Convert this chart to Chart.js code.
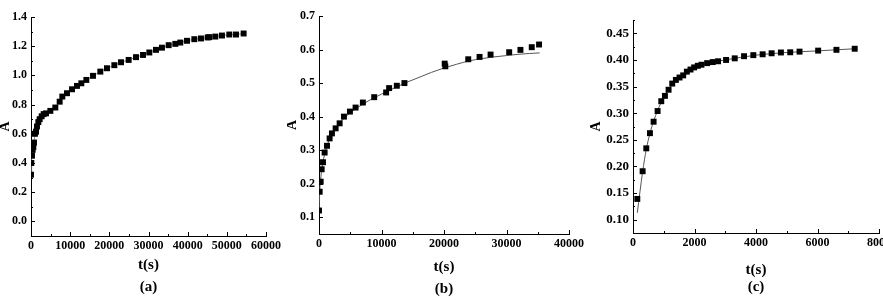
<!DOCTYPE html>
<html>
<head>
<meta charset="utf-8">
<script src="https://cdn.jsdelivr.net/npm/chart.js@4"></script>
<style>
  html, body { margin: 0; padding: 0; background: #fff; overflow: hidden; }
  body { width: 883px; height: 300px; position: relative; }
  .panel { position: absolute; top: 0; height: 300px; }
</style>
</head>
<body>
<div class="panel" style="left:0;width:287px"><canvas id="chartA"></canvas></div>
<div class="panel" style="left:287px;width:300px"><canvas id="chartB"></canvas></div>
<div class="panel" style="left:590px;width:310px"><canvas id="chartC"></canvas></div>
<script>
// (a) measured points
const tA = [0, 85, 255, 425, 600, 765, 1020, 1280, 1530, 1870, 2210, 2720, 3230, 3830, 4940, 6210, 7320, 8000, 9190, 10470, 11740, 12850, 14130, 15830, 17700, 19400, 21280, 22980, 24930, 26810, 28600, 30210, 31910, 33440, 35150, 36850, 38120, 39830, 41700, 43400, 45100, 45530, 47060, 48760, 50630, 52340, 54290];
const aA = [0.32, 0.40, 0.45, 0.49, 0.51, 0.54, 0.60, 0.615, 0.65, 0.68, 0.70, 0.72, 0.735, 0.74, 0.757, 0.78, 0.82, 0.855, 0.878, 0.905, 0.928, 0.946, 0.969, 0.997, 1.026, 1.049, 1.07, 1.09, 1.106, 1.125, 1.14, 1.157, 1.175, 1.19, 1.207, 1.216, 1.225, 1.237, 1.248, 1.253, 1.26, 1.262, 1.266, 1.273, 1.28, 1.28, 1.287];

// (b) measured points + fitted curve
const tB = [0, 106, 266, 425, 640, 900, 1280, 1700, 2070, 2660, 3300, 3990, 4950, 5850, 7020, 8830, 10740, 11220, 12450, 13670, 20110, 20210, 23880, 25690, 27450, 30430, 32230, 34040, 35210];
const aB = [0.12, 0.176, 0.206, 0.243, 0.264, 0.293, 0.313, 0.335, 0.35, 0.365, 0.38, 0.40, 0.415, 0.427, 0.442, 0.458, 0.472, 0.485, 0.492, 0.50, 0.558, 0.55, 0.571, 0.578, 0.585, 0.592, 0.599, 0.607, 0.615];
const tBfit = [0, 100, 250, 500, 1000, 2000, 3000, 4000, 6000, 8000, 10000, 12000, 14000, 16000, 18000, 20000, 22000, 24000, 26000, 28000, 30000, 32000, 35300];
const aBfit = [0.11, 0.17, 0.21, 0.25, 0.295, 0.345, 0.373, 0.395, 0.425, 0.448, 0.467, 0.485, 0.502, 0.517, 0.532, 0.545, 0.556, 0.566, 0.573, 0.578, 0.582, 0.586, 0.590];

// (c) measured points + fitted curve
const tC = [140, 313, 432, 551, 670, 800, 919, 1038, 1157, 1276, 1395, 1513, 1632, 1751, 1870, 1989, 2108, 2227, 2411, 2594, 2767, 3027, 3308, 3611, 3913, 4216, 4508, 4810, 5113, 5416, 6021, 6616, 7210];
const aC = [0.139, 0.191, 0.234, 0.2625, 0.284, 0.304, 0.3225, 0.3325, 0.344, 0.3556, 0.3625, 0.367, 0.371, 0.378, 0.382, 0.386, 0.389, 0.391, 0.394, 0.396, 0.3975, 0.40, 0.403, 0.407, 0.409, 0.4106, 0.4125, 0.414, 0.4144, 0.4156, 0.4175, 0.419, 0.421];
const tCfit = [140, 313, 432, 551, 670, 800, 1000, 1200, 1500, 2000, 2500, 3000, 4000, 5000, 6000, 7210];
const aCfit = [0.113, 0.19, 0.232, 0.262, 0.285, 0.305, 0.33, 0.348, 0.367, 0.386, 0.395, 0.40, 0.409, 0.414, 0.417, 0.421];

// major tick values on the A axes
const yTicksA = [0.0, 0.2, 0.4, 0.6, 0.8, 1.0, 1.2, 1.4];
const yTicksB = [0.1, 0.2, 0.3, 0.4, 0.5, 0.6, 0.7];
const yTicksC = [0.10, 0.15, 0.20, 0.25, 0.30, 0.35, 0.40, 0.45];

const SERIF = "'Liberation Serif', 'Times New Roman', serif";
const pairs = (xs, ys) => xs.map((x, i) => ({ x: x, y: ys[i] }));

// small inward tick marks (major + minor), like the original plots
const inwardTicks = {
    id: 'inwardTicks',
    afterDraw(chart, args, opts) {
        const ctx = chart.ctx;
        const area = chart.chartArea;
        ctx.save();
        ctx.strokeStyle = '#000';
        ctx.lineWidth = 1;
        ['x', 'y'].forEach(id => {
            const scale = chart.scales[id];
            const majors = scale.ticks.map(t => t.value);
            const marks = majors.map(v => [v, 4]);
            const minor = opts[id];
            if (minor) {
                for (let v = Math.ceil(scale.min / minor - 1e-9) * minor; v <= scale.max + 1e-9; v += minor) {
                    if (!majors.some(m => Math.abs(m - v) < minor / 10)) marks.push([v, 2]);
                }
            }
            marks.forEach(([v, len]) => {
                const p = Math.round(scale.getPixelForValue(v)) + 0.5;
                ctx.beginPath();
                if (id === 'x') {
                    ctx.moveTo(p, area.bottom);
                    ctx.lineTo(p, area.bottom - len);
                } else {
                    ctx.moveTo(area.left, p);
                    ctx.lineTo(area.left + len, p);
                }
                ctx.stroke();
            });
        });
        ctx.restore();
    }
};

function panelOptions(cfg) {
    return {
        responsive: true,
        maintainAspectRatio: false,
        animation: false,
        layout: { padding: { top: cfg.top, right: cfg.right, left: 0, bottom: 0 } },
        plugins: {
            legend: { display: false },
            tooltip: { enabled: false },
            inwardTicks: { x: cfg.xMinor, y: cfg.yMinor }
        },
        scales: {
            x: {
                type: 'linear',
                min: 0, max: cfg.xMax,
                ticks: { stepSize: cfg.xStep, padding: 3, color: '#000', maxRotation: 0, autoSkip: false,
                         font: { family: SERIF, size: 12, weight: 'bold' }, callback: v => String(v) },
                grid: { drawOnChartArea: false, drawTicks: false },
                border: { color: '#000', width: 1 },
                title: { display: true, text: ['t(s)', cfg.label], color: '#000',
                         font: { family: SERIF, size: 15, weight: 'bold', lineHeight: cfg.titleLh + 'px' },
                         padding: { top: 0, bottom: cfg.titlePad } },
                afterFit(s) { s.height = cfg.xHeight; }
            },
            y: {
                type: 'linear',
                min: cfg.yMin, max: cfg.yMax,
                afterBuildTicks(s) { s.ticks = cfg.yTicks.map(v => ({ value: v })); },
                ticks: { padding: 4, color: '#000',
                         font: { family: SERIF, size: cfg.yFont, weight: 'bold' }, callback: v => v.toFixed(cfg.yDec) },
                grid: { drawOnChartArea: false, drawTicks: false },
                border: { color: '#000', width: 1 },
                title: { display: true, text: 'A', color: '#000',
                         font: { family: SERIF, size: 14, weight: 'bold', lineHeight: cfg.yTitleOff * 2 + 'px' },
                         padding: 0 },
                afterFit(s) { s.width = cfg.yWidth; }
            }
        }
    };
}

const pointStyle = { pointStyle: 'rect', pointRadius: 4.2, pointBorderWidth: 0, pointBackgroundColor: '#000', pointBorderColor: '#000' };

new Chart(document.getElementById('chartA'), {
    type: 'scatter',
    data: {
        datasets: [
            Object.assign({ data: pairs(tA, aA), showLine: true, borderColor: '#777', borderWidth: 0.8 }, pointStyle)
        ]
    },
    options: panelOptions({ top: 17, right: 21, xMax: 60000, xStep: 10000, xMinor: 5000,
        yMin: -0.1, yMax: 1.4, yTicks: yTicksA, yMinor: 0.1, yDec: 1, yFont: 12, label: '(a)',
        xHeight: 64, titleLh: 22, titlePad: 2, yWidth: 31, yTitleOff: 5.5 }),
    plugins: [inwardTicks]
});

new Chart(document.getElementById('chartB'), {
    type: 'scatter',
    data: {
        datasets: [
            Object.assign({ data: pairs(tB, aB) }, pointStyle),
            { data: pairs(tBfit, aBfit), showLine: true, borderColor: '#555', borderWidth: 1, pointRadius: 0, cubicInterpolationMode: 'monotone' }
        ]
    },
    options: panelOptions({ top: 16, right: 17, xMax: 40000, xStep: 10000, xMinor: 5000,
        yMin: 0.05, yMax: 0.7, yTicks: yTicksB, yMinor: null, yDec: 1, yFont: 12, label: '(b)',
        xHeight: 66, titleLh: 22, titlePad: 0, yWidth: 32, yTitleOff: 5 }),
    plugins: [inwardTicks]
});

new Chart(document.getElementById('chartC'), {
    type: 'scatter',
    data: {
        datasets: [
            Object.assign({ data: pairs(tC, aC) }, pointStyle),
            { data: pairs(tCfit, aCfit), showLine: true, borderColor: '#555', borderWidth: 1, pointRadius: 0, cubicInterpolationMode: 'monotone' }
        ]
    },
    options: panelOptions({ top: 20, right: 21, xMax: 8000, xStep: 2000, xMinor: 1000,
        yMin: 0.075, yMax: 0.475, yTicks: yTicksC, yMinor: 0.025, yDec: 2, yFont: 13, label: '(c)',
        xHeight: 67, titleLh: 17, titlePad: 4, yWidth: 43, yTitleOff: 6 }),
    plugins: [inwardTicks]
});
</script>
</body>
</html>
